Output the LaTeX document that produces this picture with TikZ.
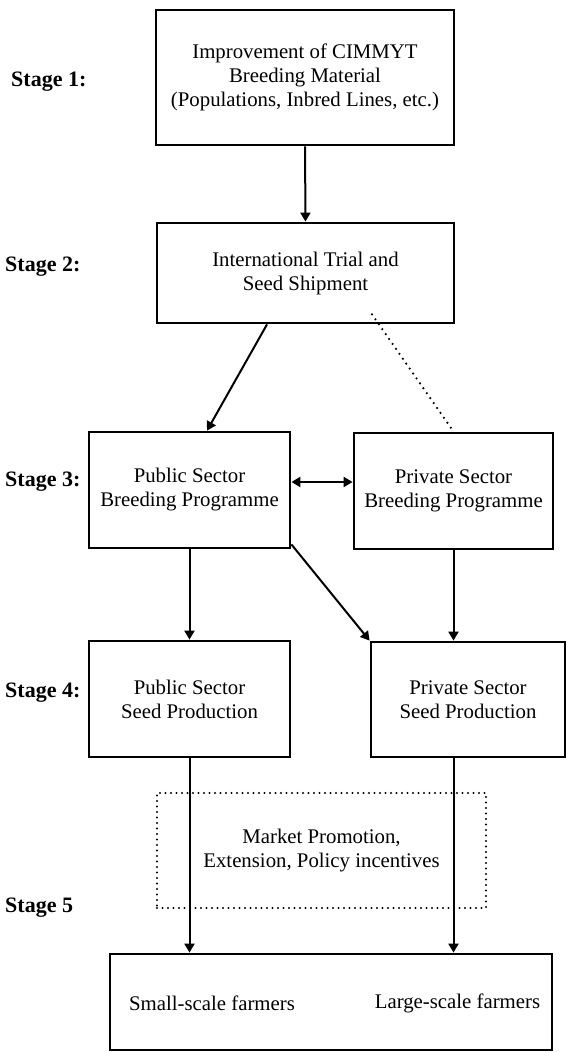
\documentclass[tikz,border=0pt]{standalone}
\usepackage{fontspec}
\setmainfont{Liberation Serif}
\usetikzlibrary{arrows.meta,calc}
\begin{document}
\begin{tikzpicture}[x=1pt,y=-1pt,
  >={Triangle[length=9pt,width=10pt]},
  box/.style={draw, line width=2.8pt, inner sep=0pt, align=center,
    font=\fontsize{20.8}{24}\selectfont},
  dotbox/.style={draw, line width=2.2pt, line cap=round, dash pattern=on 0pt off 5.5pt,
    inner sep=0pt, align=center, font=\fontsize{20.8}{24}\selectfont},
  lbl/.style={anchor=west, inner sep=0pt, font=\fontsize{22}{24}\selectfont\bfseries},
  txt/.style={inner sep=0pt, font=\fontsize{20.8}{24}\selectfont},
  conn/.style={line width=2pt, ->},
  dotline/.style={line width=2.4pt, line cap=round, dash pattern=on 0pt off 6pt}]

\useasboundingbox (0,0) rectangle (565,1052);

% stage labels
\node[lbl] (s1) at (11,82)  {Stage 1:};
\node[lbl] (s2) at (5,267)  {Stage 2:};
\node[lbl] (s3) at (5,482)  {Stage 3:};
\node[lbl] (s4) at (5,693)  {Stage 4:};
\node[lbl] (s5) at (5,908)  {Stage 5};

% boxes
\node[box, minimum width=298pt, minimum height=135pt] (b1) at (305,77.5)
  {Improvement of CIMMYT\\Breeding Material\\(Populations, Inbred Lines, etc.)};
\node[box, minimum width=297pt, minimum height=100pt] (b2) at (305.5,273)
  {International Trial and\\Seed Shipment};
\node[box, minimum width=201pt, minimum height=116pt] (b3l) at (189.5,490)
  {Public Sector\\Breeding Programme};
\node[box, minimum width=199pt, minimum height=116pt] (b3r) at (453.5,491)
  {Private Sector\\Breeding Programme};
\node[box, minimum width=201pt, minimum height=116pt] (b4l) at (189.5,699)
  {Public Sector\\Seed Production};
\node[box, minimum width=194pt, minimum height=115pt] (b4r) at (468,699.5)
  {Private Sector\\Seed Production};
\node[dotbox, minimum width=329pt, minimum height=115pt] (mkt) at (321.5,850.5)
  {Market Promotion,\\Extension, Policy incentives};
\node[box, minimum width=442pt, minimum height=96pt] (farm) at (331,1002) {};
\node[txt] (small) at (212,1003) {Small-scale farmers};
\node[txt] (large) at (457.5,1003) {Large-scale farmers};

% connectors
\draw[conn] (b1.south) -- (b2.north);
\draw[conn] ([xshift=-38.5pt]b2.south) -- ([xshift=17.5pt]b3l.north);
\draw[dotline] ([xshift=66.5pt,yshift=10pt]b2.south) -- (b3r.north);
\draw[conn,<->] ([yshift=8pt]b3l.east) -- ([yshift=8pt]b3l.east -| b3r.west);
\draw[conn] ([yshift=5pt]b3l.south east) -- (b4r.north west);
\draw[conn] (b3l.south) -- (b4l.north);
\draw[conn] (b3r.south) -- (b3r.south |- b4r.north);
\draw[conn] (b4l.south) -- (b4l.south |- farm.north);
\draw[conn] (b3r.south |- b4r.south) -- (b3r.south |- farm.north);
\end{tikzpicture}
\end{document}
